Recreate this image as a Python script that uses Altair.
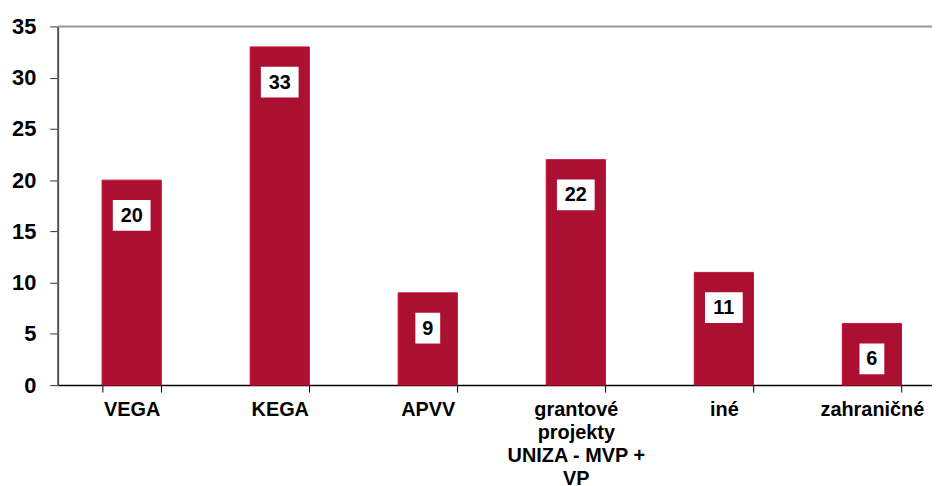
import altair as alt
import pandas as pd

categories = ["VEGA", "KEGA", "APVV", "grantové projekty UNIZA - MVP + VP", "iné", "zahraničné"]
values = [20, 33, 9, 22, 11, 6]

df = pd.DataFrame({"cat": categories, "value": values})
df["label"] = df["value"].astype(str)

FONT = "Liberation Sans"
BAR = "#AB0F32"

x = alt.X(
    "cat:N",
    sort=categories,
    title=None,
    scale=alt.Scale(range=[0, 894], paddingInner=0.6, paddingOuter=0.3),
    axis=alt.Axis(
        labelAngle=0,
        labelFont=FONT,
        labelFontWeight="bold",
        labelFontSize=20,
        labelColor="black",
        labelPadding=8,
        labelLineHeight=23,
        labelBaseline="top",
        labelExpr="datum.value == 'grantové projekty UNIZA - MVP + VP' ? ['grantové', 'projekty', 'UNIZA - MVP +', 'VP'] : datum.label",
        tickBand="extent",
        tickSize=7,
        tickColor="black",
        tickWidth=1,
        domainColor="black",
        domainWidth=1.5,
    ),
)

y = alt.Y(
    "value:Q",
    title=None,
    scale=alt.Scale(domain=[0, 35], nice=False, zero=True),
    axis=alt.Axis(
        values=[0, 5, 10, 15, 20, 25, 30, 35],
        grid=False,
        labelFont=FONT,
        labelFontWeight="bold",
        labelFontSize=22,
        labelColor="black",
        labelPadding=14,
        tickSize=8,
        tickColor="#333333",
        domainColor="#555555",
        domainWidth=2,
    ),
)

base = alt.Chart(df)

bars = base.mark_bar(color=BAR, stroke="#C8102E", strokeWidth=1).encode(x=x, y=y)

top_line = alt.Chart(pd.DataFrame({"v": [35]})).mark_rule(color="#999999", strokeWidth=2).encode(
    y=alt.Y("v:Q", scale=alt.Scale(domain=[0, 35], nice=False)),
)

box2 = base.transform_filter("datum.value >= 10").mark_bar(
    color="white", width=38, yOffset=20, y2Offset=51
).encode(x=alt.X("cat:N", sort=categories), y=alt.Y("value:Q"), y2=alt.Y2("value:Q"))

box1 = base.transform_filter("datum.value < 10").mark_bar(
    color="white", width=25, yOffset=20, y2Offset=51
).encode(x=alt.X("cat:N", sort=categories), y=alt.Y("value:Q"), y2=alt.Y2("value:Q"))

text = base.mark_text(
    font=FONT, fontWeight="bold", fontSize=20, color="black", dy=36, baseline="middle", align="center"
).encode(x=alt.X("cat:N", sort=categories), y=alt.Y("value:Q"), text="label:N")

chart = (
    alt.layer(bars, top_line, box2, box1, text)
    .properties(
        width=880,
        height=361,
        autosize=alt.AutoSizeParams(type="none"),
        padding={"left": 50, "top": 17, "right": 0, "bottom": 100},
    )
    .configure_view(stroke=None)
    .configure(background="white")
)

chart.save("out.html", embed_options={"renderer": "svg", "actions": False})
